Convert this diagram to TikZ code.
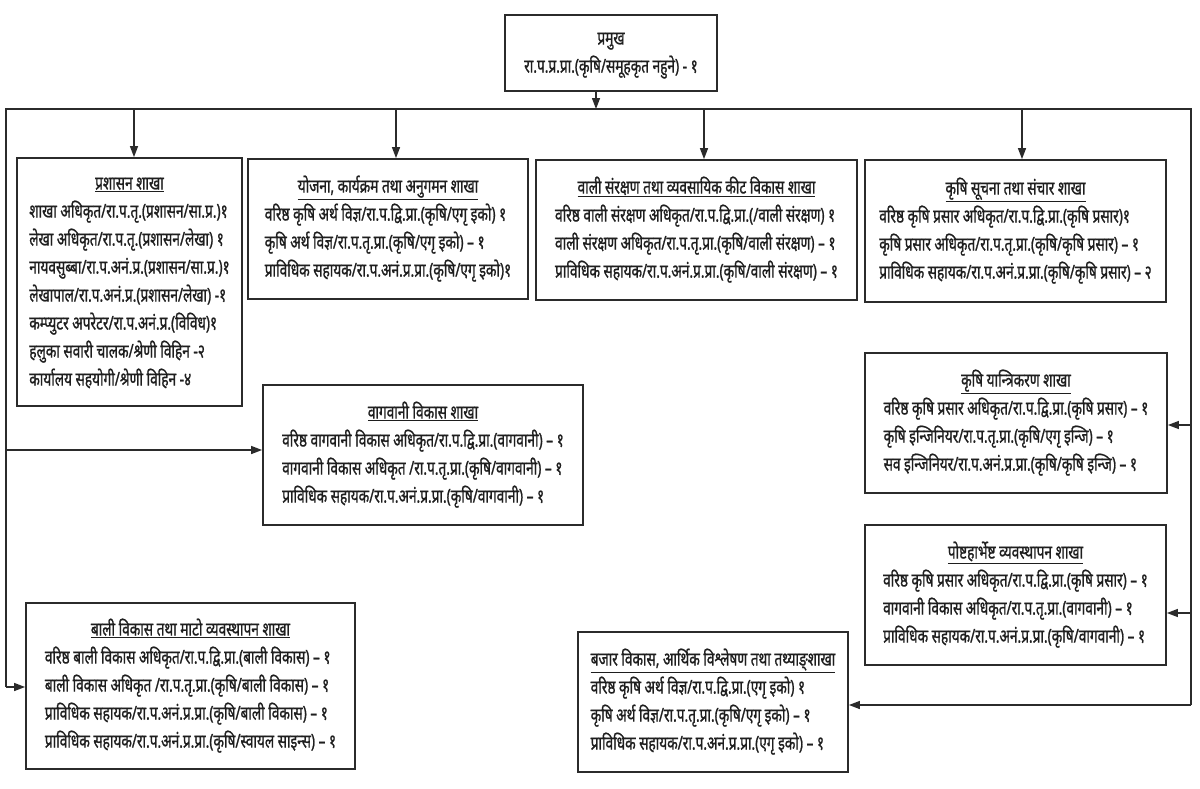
\documentclass[tikz,border=0pt]{standalone}
\usepackage{fontspec}
\newfontfamily\dev[Script=Devanagari,FakeStretch=0.72,FakeBold=1]{Noto Sans}
\usetikzlibrary{arrows.meta}
\definecolor{ln}{HTML}{2B2B2B}
\definecolor{tx}{HTML}{1E1E1E}
\newcommand\brtitle[1]{\multicolumn{1}{@{}c@{}}{\underline{#1}}}
\newenvironment{brlist}{\begin{tabular}{@{}l@{}}}{\end{tabular}}
\tikzset{
  box/.style={draw=ln, line width=1.8pt, inner sep=0pt, text=tx, fill=white,
    font=\dev\fontsize{19}{28}\selectfont},
  bus/.style={draw=ln, line width=2pt},
  arr/.style={draw=ln, line width=1.3pt, -{Triangle[length=11pt,width=8pt]}},
}
\begin{document}
\begin{tikzpicture}[x=1pt,y=-1pt]
\useasboundingbox[fill=white] (0,0) rectangle (1200,788);

% boxes
\node[box, minimum width=212pt, minimum height=76pt] (top) at (611,53)
 {\begin{tabular}{@{}c@{}}प्रमुख\\ रा.प.प्र.प्रा.(कृषि/समूहकृत नहुने) - १\end{tabular}};

\node[box, minimum width=225pt, minimum height=248pt] (admin) at (129.5,282)
 {\begin{brlist}\brtitle{प्रशासन शाखा}\\
 शाखा अधिकृत/रा.प.तृ.(प्रशासन/सा.प्र.)१\\
 लेखा अधिकृत/रा.प.तृ.(प्रशासन/लेखा) १\\
 नायवसुब्बा/रा.प.अनं.प्र.(प्रशासन/सा.प्र.)१\\
 लेखापाल/रा.प.अनं.प्र.(प्रशासन/लेखा) -१\\
 कम्प्युटर अपरेटर/रा.प.अनं.प्र.(विविध)१\\
 हलुका सवारी चालक/श्रेणी विहिन -२\\
 कार्यालय सहयोगी/श्रेणी विहिन -४\end{brlist}};

\node[box, minimum width=280pt, minimum height=140pt] (yojana) at (388,229)
 {\begin{brlist}\brtitle{योजना, कार्यक्रम तथा अनुगमन शाखा}\\
 वरिष्ठ कृषि अर्थ विज्ञ/रा.प.द्वि.प्रा.(कृषि/एगृ इको) १\\
 कृषि अर्थ विज्ञ/रा.प.तृ.प्रा.(कृषि/एगृ इको) – १\\
 प्राविधिक सहायक/रा.प.अनं.प्र.प्रा.(कृषि/एगृ इको)१\end{brlist}};

\node[box, minimum width=321pt, minimum height=140pt] (sanrakshan) at (696.5,230)
 {\begin{brlist}\brtitle{वाली संरक्षण तथा व्यवसायिक कीट विकास शाखा}\\
 वरिष्ठ वाली संरक्षण अधिकृत/रा.प.द्वि.प्रा.(/वाली संरक्षण) १\\
 वाली संरक्षण अधिकृत/रा.प.तृ.प्रा.(कृषि/वाली संरक्षण) – १\\
 प्राविधिक सहायक/रा.प.अनं.प्र.प्रा.(कृषि/वाली संरक्षण) – १\end{brlist}};

\node[box, minimum width=301pt, minimum height=142pt] (suchana) at (1015.5,231)
 {\begin{brlist}\brtitle{कृषि सूचना तथा संचार शाखा}\\
 वरिष्ठ कृषि प्रसार अधिकृत/रा.प.द्वि.प्रा.(कृषि प्रसार)१\\
 कृषि प्रसार अधिकृत/रा.प.तृ.प्रा.(कृषि/कृषि प्रसार) – १\\
 प्राविधिक सहायक/रा.प.अनं.प्र.प्रा.(कृषि/कृषि प्रसार) – २\end{brlist}};

\node[box, minimum width=320pt, minimum height=140pt] (bagwani) at (423,455)
 {\begin{brlist}\brtitle{वागवानी विकास शाखा}\\
 वरिष्ठ वागवानी विकास अधिकृत/रा.प.द्वि.प्रा.(वागवानी) – १\\
 वागवानी विकास अधिकृत /रा.प.तृ.प्रा.(कृषि/वागवानी) – १\\
 प्राविधिक सहायक/रा.प.अनं.प्र.प्रा.(कृषि/वागवानी) – १\end{brlist}};

\node[box, minimum width=302pt, minimum height=140pt] (yantri) at (1016,423)
 {\begin{brlist}\brtitle{कृषि यान्त्रिकरण शाखा}\\
 वरिष्ठ कृषि प्रसार अधिकृत/रा.प.द्वि.प्रा.(कृषि प्रसार) – १\\
 कृषि इन्जिनियर/रा.प.तृ.प्रा.(कृषि/एगृ इन्जि) – १\\
 सव इन्जिनियर/रा.प.अनं.प्र.प्रा.(कृषि/कृषि इन्जि) – १\end{brlist}};

\node[box, minimum width=301pt, minimum height=140pt] (post) at (1015.5,595)
 {\begin{brlist}\brtitle{पोष्टहार्भेष्ट व्यवस्थापन शाखा}\\
 वरिष्ठ कृषि प्रसार अधिकृत/रा.प.द्वि.प्रा.(कृषि प्रसार) – १\\
 वागवानी विकास अधिकृत/रा.प.तृ.प्रा.(वागवानी) – १\\
 प्राविधिक सहायक/रा.प.अनं.प्र.प्रा.(कृषि/वागवानी) – १\end{brlist}};

\node[box, minimum width=329pt, minimum height=166pt] (balivikas) at (190.5,686)
 {\begin{brlist}\brtitle{बाली विकास तथा माटो व्यवस्थापन शाखा}\\
 वरिष्ठ बाली विकास अधिकृत/रा.प.द्वि.प्रा.(बाली विकास) – १\\
 बाली विकास अधिकृत /रा.प.तृ.प्रा.(कृषि/बाली विकास) – १\\
 प्राविधिक सहायक/रा.प.अनं.प्र.प्रा.(कृषि/बाली विकास) – १\\
 प्राविधिक सहायक/रा.प.अनं.प्र.प्रा.(कृषि/स्वायल साइन्स) – १\end{brlist}};

\node[box, minimum width=270pt, minimum height=140pt] (bajar) at (713,702)
 {\begin{brlist}\brtitle{बजार विकास, आर्थिक विश्लेषण तथा तथ्याङ्शाखा}\\
 वरिष्ठ कृषि अर्थ विज्ञ/रा.प.द्वि.प्रा.(एगृ इको) १\\
 कृषि अर्थ विज्ञ/रा.प.तृ.प्रा.(कृषि/एगृ इको) – १\\
 प्राविधिक सहायक/रा.प.अनं.प्र.प्रा.(एगृ इको) – १\end{brlist}};

% bus coordinates
\coordinate (hub) at (596,109);
\coordinate (tl) at (6,109);
\coordinate (tr) at (1191,109);
\coordinate (lend) at (6,687);
\coordinate (rend) at (1191,705);
\coordinate (b1) at (134,109);
\coordinate (b2) at (396,109);
\coordinate (b3) at (704,109);
\coordinate (b4) at (1022,109);
\coordinate (l1) at (6,450);
\coordinate (r1) at (1191,425);
\coordinate (r2) at (1191,613);

\draw[bus] (lend) -- (tl) -- (tr) -- (rend);
\draw[arr] (top.south -| hub) -- (hub);
\draw[arr] (b1) -- (b1 |- admin.north);
\draw[arr] (b2) -- (b2 |- yojana.north);
\draw[arr] (b3) -- (b3 |- sanrakshan.north);
\draw[arr] (b4) -- (b4 |- suchana.north);
\draw[arr] (l1) -- (l1 -| bagwani.west);
\draw[arr] (lend) -- (lend -| balivikas.west);
\draw[arr] (r1) -- (r1 -| yantri.east);
\draw[arr] (r2) -- (r2 -| post.east);
\draw[arr] (rend) -- (rend -| bajar.east);
\end{tikzpicture}
\end{document}
